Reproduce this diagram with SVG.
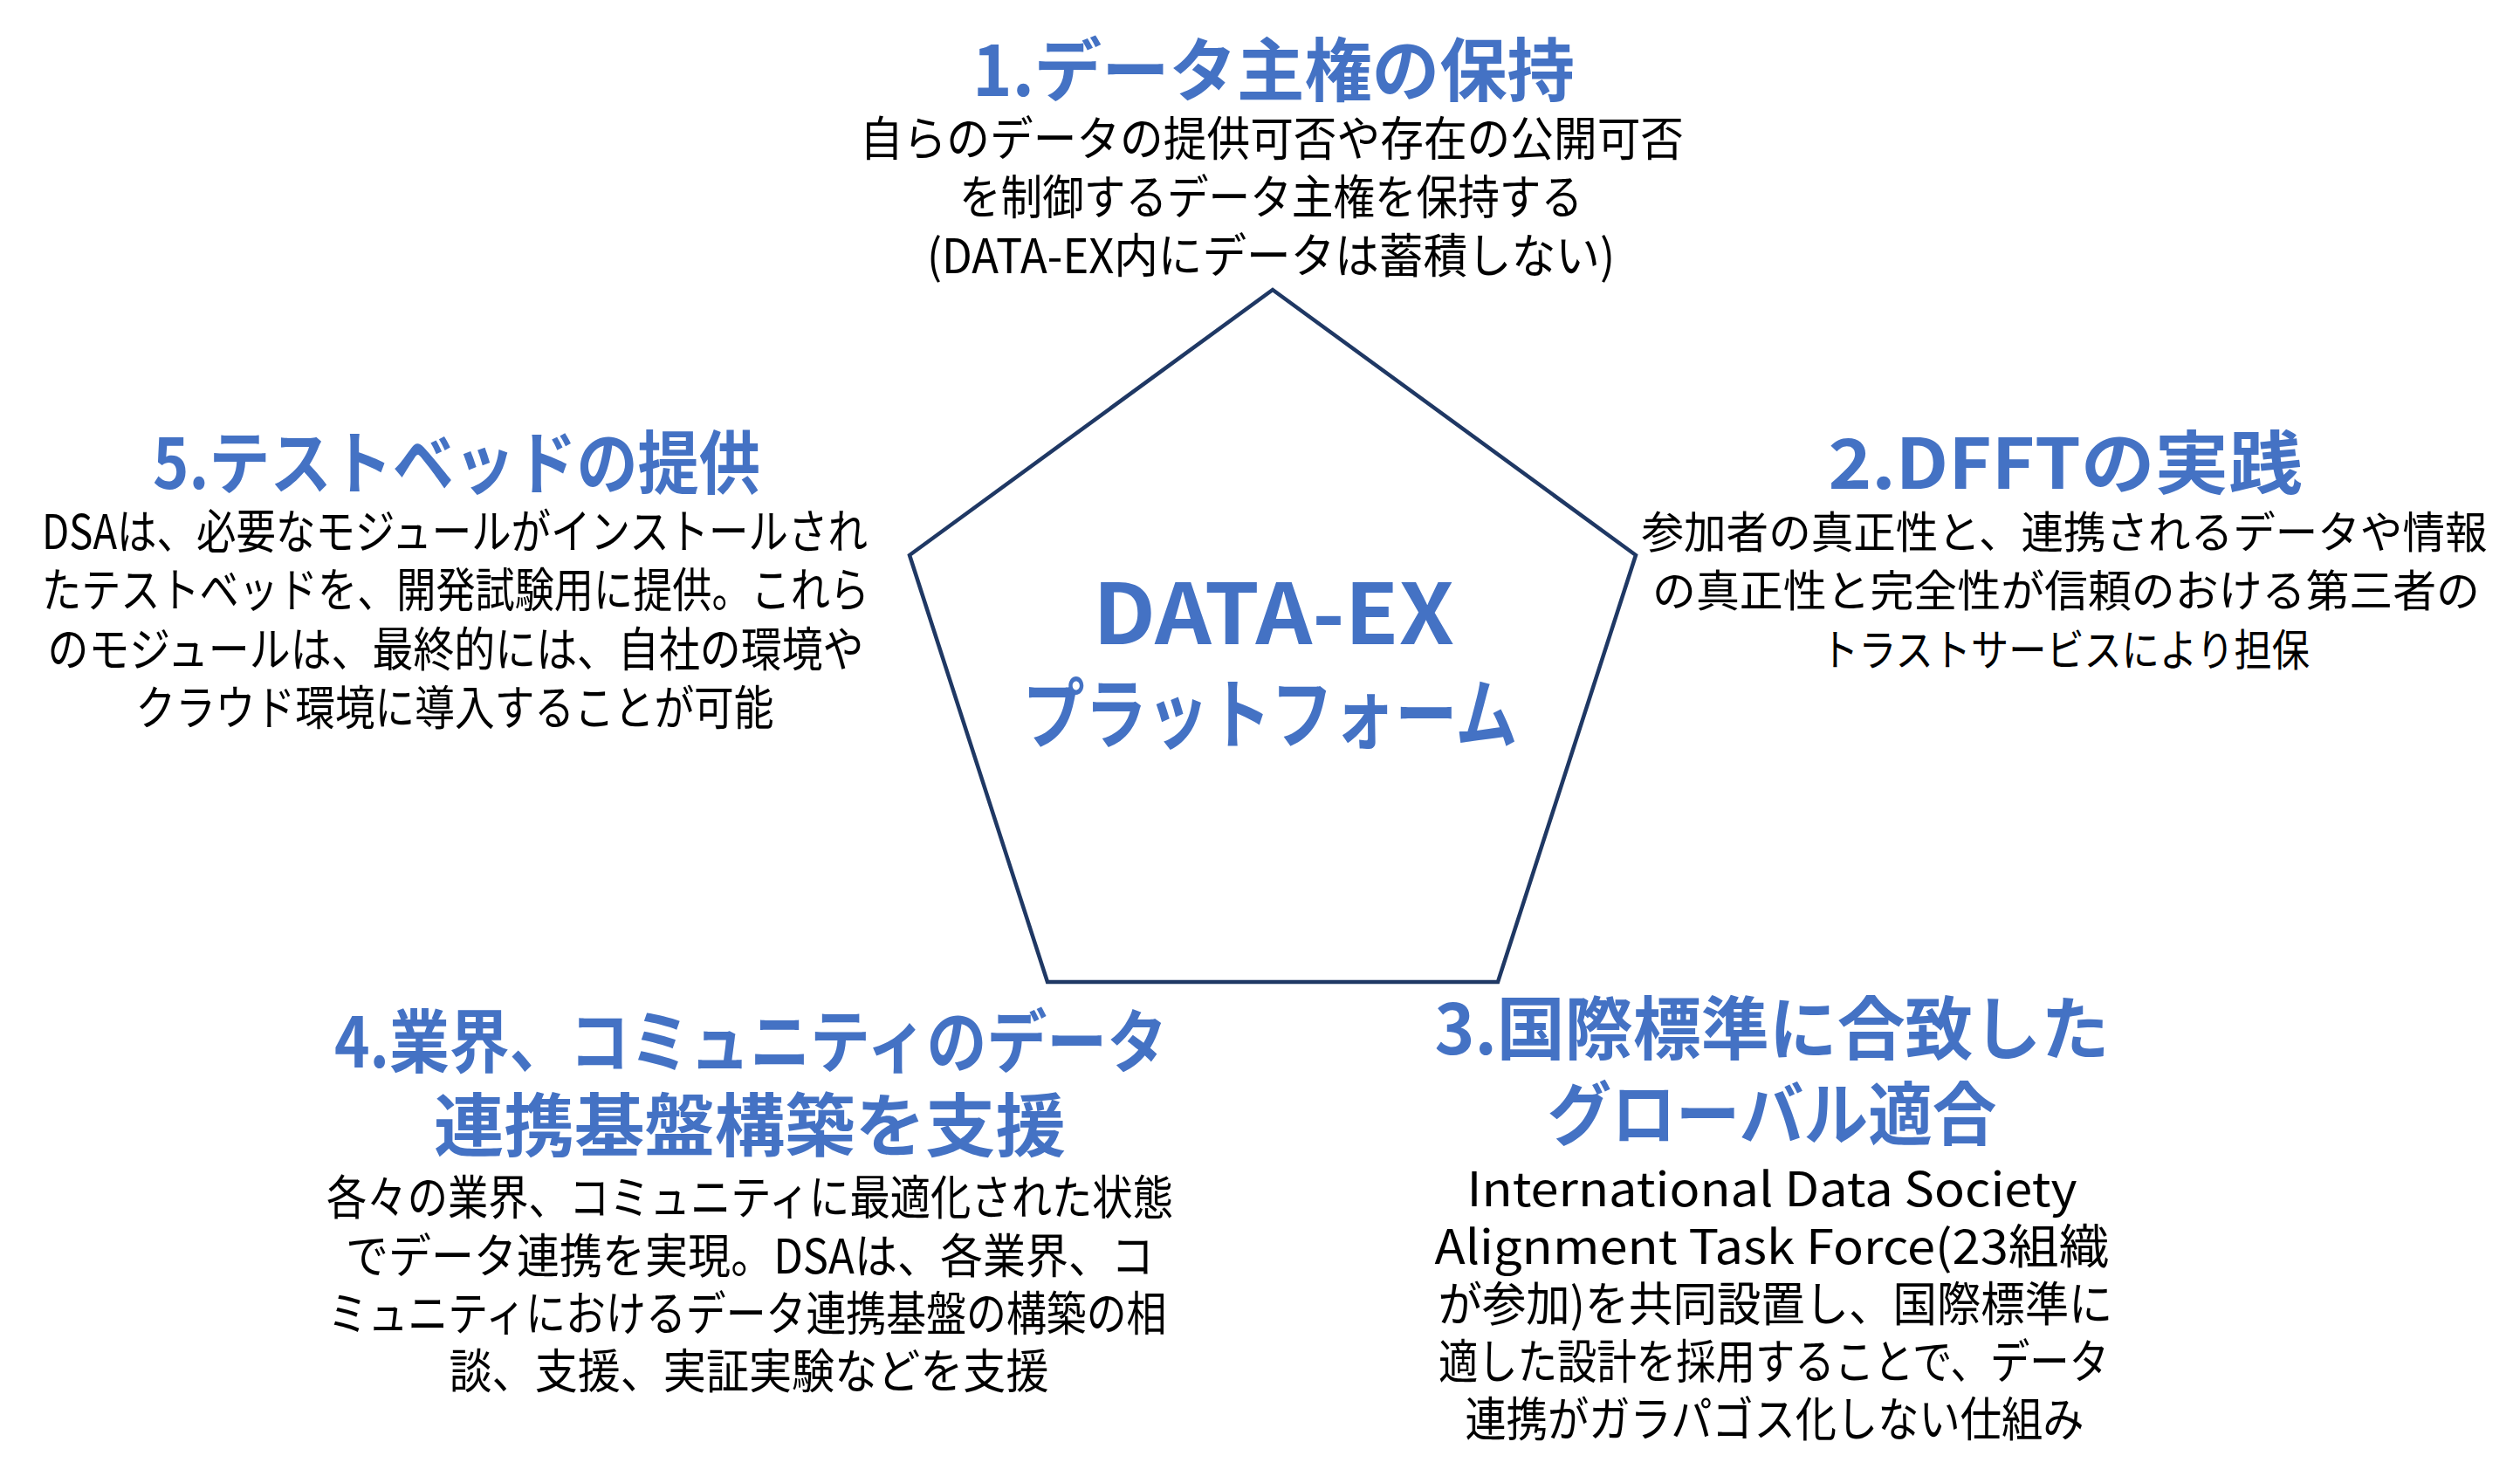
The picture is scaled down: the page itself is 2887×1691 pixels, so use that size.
<svg xmlns="http://www.w3.org/2000/svg" width="2887" height="1691" viewBox="0 0 2887 1691">
<style>
.h{font-family:"Noto Sans CJK JP","Noto Sans",sans-serif;font-weight:700;font-size:79px;fill:#4472C4;text-anchor:middle}
.b{font-family:"Noto Sans CJK JP","Noto Sans",sans-serif;font-weight:400;font-size:54px;fill:#000;text-anchor:middle}
.b2{font-size:50px}
.c{font-family:"Noto Sans CJK JP","Noto Sans",sans-serif;font-weight:700;fill:#4472C4;text-anchor:middle}
.pent{fill:#fff;stroke:#1F3864;stroke-width:4.5;stroke-linejoin:miter}
</style>
<rect width="2887" height="1691" fill="#fff"/>
<g id="connectors"></g>
<g id="platform">
<polygon class="pent" points="1458,332 1874,636 1716,1125 1200,1125 1042,636"/>
<text class="c" x="1459" y="738" font-size="96" textLength="414" lengthAdjust="spacingAndGlyphs">DATA-EX</text>
<text class="c" x="1455" y="850" font-size="88" textLength="567" lengthAdjust="spacingAndGlyphs">プラットフォーム</text>
</g>
<g id="node1">
<text class="h" x="1459" y="110" textLength="690" lengthAdjust="spacingAndGlyphs">1.データ主権の保持</text>
<text class="b" x="1457" y="179" textLength="944" lengthAdjust="spacingAndGlyphs">自らのデータの提供可否や存在の公開可否</text>
<text class="b" x="1456" y="246" textLength="714" lengthAdjust="spacingAndGlyphs">を制御するデータ主権を保持する</text>
<text class="b" x="1456" y="313" textLength="788" lengthAdjust="spacingAndGlyphs">(DATA-EX内にデータは蓄積しない)</text>
</g>
<g id="node2">
<text class="h" x="2366" y="560" textLength="543" lengthAdjust="spacingAndGlyphs">2.DFFTの実践</text>
<text class="b b2" x="2365" y="628" textLength="969" lengthAdjust="spacingAndGlyphs">参加者の真正性と、連携されるデータや情報</text>
<text class="b b2" x="2367" y="695" textLength="948" lengthAdjust="spacingAndGlyphs">の真正性と完全性が信頼のおける第三者の</text>
<text class="b b2" x="2366" y="763" textLength="560" lengthAdjust="spacingAndGlyphs">トラストサービスにより担保</text>
</g>
<g id="node3">
<text class="h" x="2030" y="1208" textLength="773" lengthAdjust="spacingAndGlyphs">3.国際標準に合致した</text>
<text class="h" x="2030" y="1306" textLength="515" lengthAdjust="spacingAndGlyphs">グローバル適合</text>
<text class="b" x="2030" y="1382" textLength="699" lengthAdjust="spacingAndGlyphs">International Data Society</text>
<text class="b" x="2030" y="1448" textLength="773" lengthAdjust="spacingAndGlyphs">Alignment Task Force(23組織</text>
<text class="b" x="2034" y="1514" textLength="773" lengthAdjust="spacingAndGlyphs">が参加)を共同設置し、国際標準に</text>
<text class="b" x="2032" y="1580" textLength="768" lengthAdjust="spacingAndGlyphs">適した設計を採用することで、データ</text>
<text class="b" x="2033" y="1646" textLength="709" lengthAdjust="spacingAndGlyphs">連携がガラパゴス化しない仕組み</text>
</g>
<g id="node4">
<text class="h" x="860" y="1223" textLength="954" lengthAdjust="spacingAndGlyphs">4.業界、コミュニティのデータ</text>
<text class="h" x="859" y="1319" textLength="724" lengthAdjust="spacingAndGlyphs">連携基盤構築を支援</text>
<text class="b" x="859" y="1392" textLength="970" lengthAdjust="spacingAndGlyphs">各々の業界、コミュニティに最適化された状態</text>
<text class="b" x="859" y="1459" textLength="926" lengthAdjust="spacingAndGlyphs">でデータ連携を実現。DSAは、各業界、コ</text>
<text class="b" x="856" y="1525" textLength="961" lengthAdjust="spacingAndGlyphs">ミュニティにおけるデータ連携基盤の構築の相</text>
<text class="b" x="858" y="1591" textLength="687" lengthAdjust="spacingAndGlyphs">談、支援、実証実験などを支援</text>
</g>
<g id="node5">
<text class="h" x="523" y="560" textLength="696" lengthAdjust="spacingAndGlyphs">5.テストベッドの提供</text>
<text class="b" x="521" y="629" textLength="946" lengthAdjust="spacingAndGlyphs">DSAは、必要なモジュールがインストールされ</text>
<text class="b" x="522" y="696" textLength="948" lengthAdjust="spacingAndGlyphs">たテストベッドを、開発試験用に提供。これら</text>
<text class="b" x="522" y="764" textLength="935" lengthAdjust="spacingAndGlyphs">のモジュールは、最終的には、自社の環境や</text>
<text class="b" x="521" y="831" textLength="731" lengthAdjust="spacingAndGlyphs">クラウド環境に導入することが可能</text>
</g>
</svg>
